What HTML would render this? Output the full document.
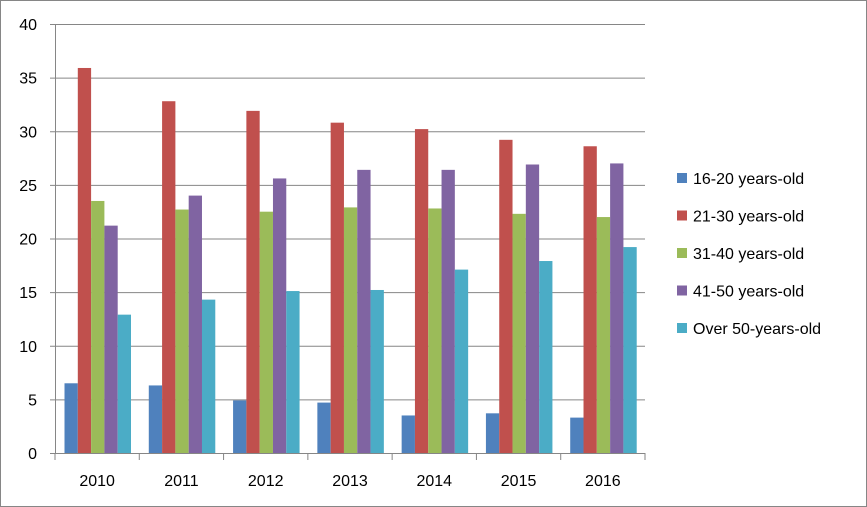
<!DOCTYPE html>
<html><head><meta charset="utf-8"><style>
body{margin:0;background:#fff}
svg{display:block;font-family:"Liberation Sans",sans-serif}
</style></head><body>
<svg id="c" width="867" height="507">
<rect x="0.5" y="0.5" width="866" height="506" fill="#fff" stroke="#868686"/>
<g id="grid"></g><g id="bars"></g><g id="axes"></g><g id="legend"></g>
</svg>
<script>
const categories=["2010","2011","2012","2013","2014","2015","2016"];
const seriesNames=["16-20 years-old","21-30 years-old","31-40 years-old","41-50 years-old","Over 50-years-old"];
const s1=[6.5,6.3,4.9,4.7,3.5,3.7,3.3];
const s2=[35.9,32.8,31.9,30.8,30.2,29.2,28.6];
const s3=[23.5,22.7,22.5,22.9,22.8,22.3,22.0];
const s4=[21.2,24.0,25.6,26.4,26.4,26.9,27.0];
const s5=[12.9,14.3,15.1,15.2,17.1,17.9,19.2];
const yTicks=[0,5,10,15,20,25,30,35,40];
const series=[s1,s2,s3,s4,s5];
const colors=["#4f81bd","#c0504d","#9bbb59","#8064a2","#4bacc6"];
const NS="http://www.w3.org/2000/svg";
const X0=55,X1=645,Y0=453,Y1=24,YMAX=40;
const gw=(X1-X0)/categories.length,bw=13.3,off=9.5;
const y=v=>Y0-(v/YMAX)*(Y0-Y1);
function mk(t,a,p){const e=document.createElementNS(NS,t);for(const k in a)e.setAttribute(k,a[k]);p.appendChild(e);return e;}
const grid=document.getElementById('grid'),bars=document.getElementById('bars'),axes=document.getElementById('axes'),leg=document.getElementById('legend');
yTicks.forEach(v=>{
 const l=mk('line',{x1:X0-5,x2:X1,y1:y(v)+.5,y2:y(v)+.5,stroke:'#868686','stroke-width':1},grid);
 
 
 const t=mk('text',{x:37,y:y(v)+6,'text-anchor':'end','font-size':16,fill:'#000'},axes);
 t.textContent=v;
 
 
});
mk('line',{x1:X0+.5,x2:X0+.5,y1:Y1,y2:Y0,stroke:'#868686'},axes);
categories.forEach((c,i)=>{
 const gx=X0+i*gw;
 series.forEach((s,j)=>{
  const r=mk('rect',{x:gx+off+j*bw,y:y(s[i]),width:bw,height:Y0-y(s[i]),fill:colors[j]},bars);
  
  
 });
 const t=mk('text',{x:gx+gw/2,y:486,'text-anchor':'middle','font-size':16,fill:'#000'},axes);
 t.textContent=c;
 
 
});
for(let i=0;i<=categories.length;i++){const x=X0+i*gw;mk('line',{x1:x,x2:x,y1:Y0,y2:Y0+7,stroke:'#868686'},axes);}
mk('line',{x1:X0,x2:X1,y1:Y0+.5,y2:Y0+.5,stroke:'#868686'},axes);
seriesNames.forEach((n,j)=>{
 const ly=178+j*37.5;
 const r=mk('rect',{x:677,y:ly-5,width:10,height:10,fill:colors[j]},leg);
 
 
 const t=mk('text',{x:693,y:ly+6,'font-size':16,fill:'#000'},leg);
 t.textContent=n;
 
 
});
</script>
</body></html>
